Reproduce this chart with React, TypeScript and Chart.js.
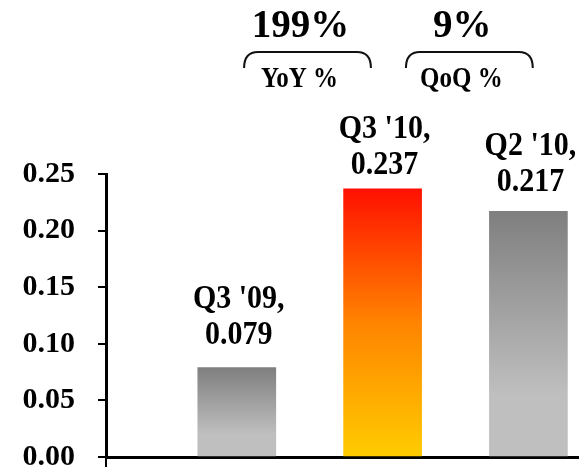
import { useEffect, useRef } from "react";
import { Chart, registerables } from "chart.js";

Chart.register(...registerables);

// Quarterly figures
const quarters = ["Q3 '09,", "Q3 '10,", "Q2 '10,"];
const epsValues = [0.079, 0.237, 0.217];
const yTicks = [0, 0.05, 0.1, 0.15, 0.2, 0.25];

// Growth callouts: headline value, caption, and the span (in x-scale units) of the bracket
const changeValues = ["199%", "9%"];
const changeNames = ["YoY %", "QoQ %"];
const changeSpans: [number, number][] = [
  [1.05, 1.92],
  [2.16, 3.03],
];

// Gap (px) between each bar top and its label block
const labelLift = [24, 15, 20];

const WIDTH = 579;
const HEIGHT = 473;
const FONT = "'Liberation Serif', 'Times New Roman', serif";
const HIGHLIGHT_INDEX = 1;
const X_MIN = 0.103;
const X_MAX = 3.347;

// Slightly tall lettering for the annotation text
function tallText(ctx: CanvasRenderingContext2D, text: string, x: number, y: number, stretch = 1.12) {
  ctx.save();
  ctx.translate(x, y);
  ctx.scale(1, stretch);
  ctx.fillText(text, 0, 0);
  ctx.restore();
}

const barLabels = {
  id: "barLabels",
  afterDatasetsDraw(chart: any) {
    const ctx = chart.ctx as CanvasRenderingContext2D;
    const meta = chart.getDatasetMeta(0);
    ctx.save();
    ctx.fillStyle = "#000";
    ctx.textAlign = "center";
    ctx.textBaseline = "alphabetic";
    ctx.font = `bold 30px ${FONT}`;
    meta.data.forEach((bar: any, i: number) => {
      const base = bar.y - labelLift[i];
      tallText(ctx, epsValues[i].toFixed(3), bar.x + 2, base);
      tallText(ctx, quarters[i], bar.x + 2, base - 36);
    });
    ctx.restore();
  },
};

const growthCallouts = {
  id: "growthCallouts",
  afterDraw(chart: any) {
    const ctx = chart.ctx as CanvasRenderingContext2D;
    const xs = chart.scales.x;
    ctx.save();
    changeSpans.forEach(([a, b], i) => {
      const x0 = xs.getPixelForValue(a);
      const x1 = xs.getPixelForValue(b);
      const cx = (x0 + x1) / 2 - 5;
      // bracket
      ctx.beginPath();
      ctx.strokeStyle = "#111";
      ctx.lineWidth = 2;
      ctx.moveTo(x0, 68);
      ctx.quadraticCurveTo(x0, 52, x0 + 14, 52);
      ctx.lineTo(x1 - 14, 52);
      ctx.quadraticCurveTo(x1, 52, x1, 68);
      ctx.stroke();
      // headline value
      ctx.fillStyle = "#000";
      ctx.textAlign = "center";
      ctx.font = `bold 39px ${FONT}`;
      tallText(ctx, changeValues[i], cx - 2, 37, 1.0);
      // caption
      ctx.font = `bold 25px ${FONT}`;
      tallText(ctx, changeNames[i], cx - 3, 87, 1.15);
    });
    ctx.restore();
  },
};

function barFill(ctx: any) {
  const chart = ctx.chart;
  if (!chart.chartArea) return "#999999";
  const ys = chart.scales.y;
  const raw = ctx.raw as { y: number } | undefined;
  const value = raw ? raw.y : 0;
  const top = ys.getPixelForValue(value);
  const bottom = ys.getPixelForValue(0);
  const g = chart.ctx.createLinearGradient(0, top, 0, bottom);
  if (ctx.dataIndex === HIGHLIGHT_INDEX) {
    g.addColorStop(0, "#ff1000");
    g.addColorStop(0.5, "#ff8400");
    g.addColorStop(1, "#ffcc00");
  } else {
    g.addColorStop(0, "#7f7f7f");
    g.addColorStop(0.75, "#bfbfbf");
    g.addColorStop(1, "#bfbfbf");
  }
  return g;
}

export default function App() {
  const canvasRef = useRef<HTMLCanvasElement | null>(null);

  useEffect(() => {
    if (!canvasRef.current) return;
    const chart = new Chart(canvasRef.current, {
      type: "bar",
      data: {
        datasets: [
          {
            data: epsValues.map((v, i) => ({ x: i + 1, y: v })),
            backgroundColor: barFill as any,
            borderWidth: 0,
            barThickness: 78,
          },
        ],
      },
      options: {
        animation: false,
        responsive: false,
        devicePixelRatio: 1,
        layout: { padding: { top: 174, left: 0, right: 0, bottom: 0 } },
        plugins: {
          legend: { display: false },
          tooltip: { enabled: false },
        },
        scales: {
          x: {
            type: "linear",
            min: X_MIN,
            max: X_MAX,
            offset: false,
            afterBuildTicks: (s: any) => {
              s.ticks = [{ value: X_MIN }];
            },
            ticks: { display: false },
            grid: {
              offset: false,
              drawOnChartArea: false,
              tickLength: 10,
              color: "#000",
              lineWidth: 2,
            },
            border: { color: "#000", width: 3 },
            afterFit: (s: any) => {
              s.height = 16;
            },
          },
          y: {
            min: 0,
            max: 0.25,
            afterBuildTicks: (s: any) => {
              s.ticks = yTicks.map((v) => ({ value: v }));
            },
            ticks: {
              color: "#000",
              padding: 23,
              font: { family: FONT, size: 30, weight: "bold" },
              callback: (v: any) => Number(v).toFixed(2),
            },
            grid: {
              drawOnChartArea: false,
              tickLength: 8,
              color: "#000",
              lineWidth: 2,
            },
            border: { color: "#000", width: 3 },
            afterFit: (s: any) => {
              s.width = 106;
              // the outer label padding is already covered by the layout
              s.paddingTop = 0;
              s.paddingBottom = 0;
            },
          },
        },
      },
      plugins: [barLabels, growthCallouts],
    });
    return () => chart.destroy();
  }, []);

  return (
    <div style={{ position: "fixed", left: 0, top: 0, width: WIDTH, height: HEIGHT, background: "#fff" }}>
      <canvas ref={canvasRef} width={WIDTH} height={HEIGHT} style={{ display: "block" }} />
    </div>
  );
}
